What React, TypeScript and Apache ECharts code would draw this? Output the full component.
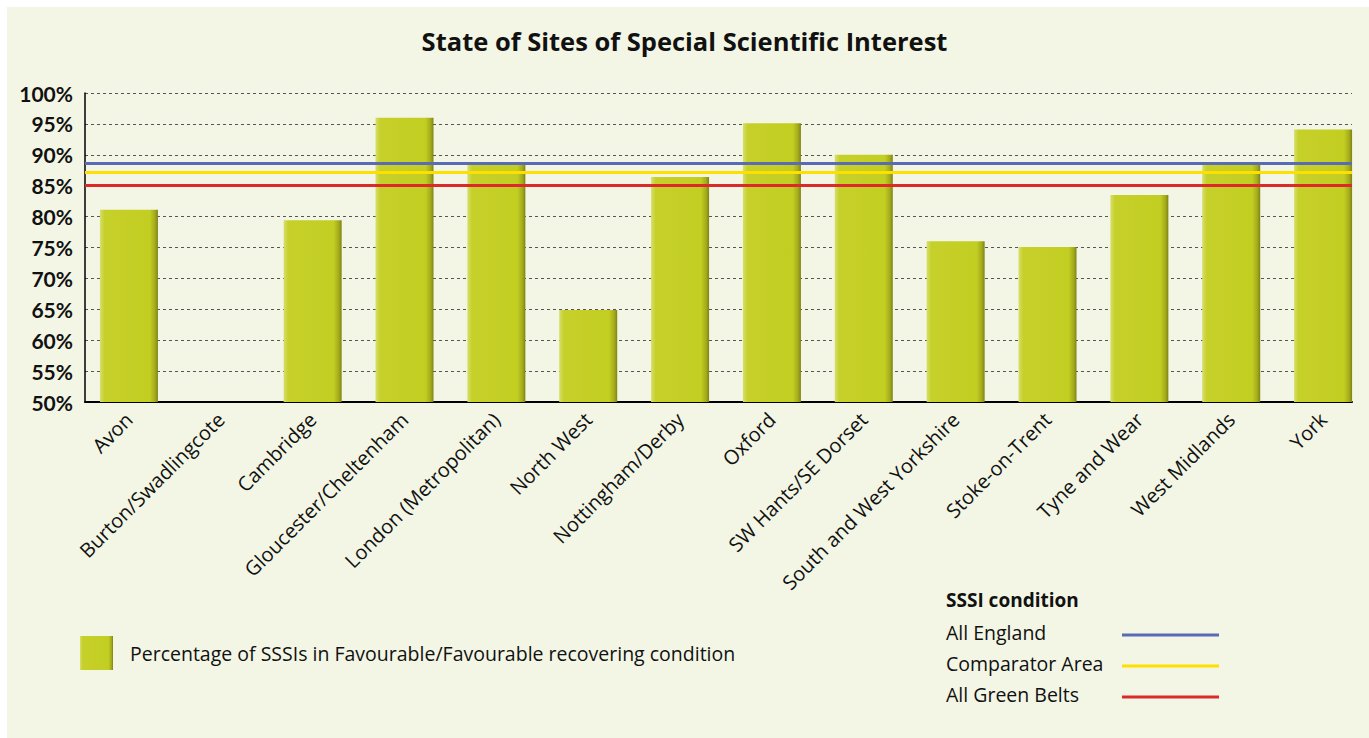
import React, { useEffect, useRef } from "react";
import * as echarts from "echarts";

const title = "State of Sites of Special Scientific Interest";
const categories = [
  "Avon",
  "Burton/Swadlingcote",
  "Cambridge",
  "Gloucester/Cheltenham",
  "London (Metropolitan)",
  "North West",
  "Nottingham/Derby",
  "Oxford",
  "SW Hants/SE Dorset",
  "South and West Yorkshire",
  "Stoke-on-Trent",
  "Tyne and Wear",
  "West Midlands",
  "York",
];
const favourablePct: (number | null)[] = [
  81.1, null, 79.4, 96.0, 88.7, 64.9, 86.4, 95.1, 90.0, 76.0, 75.1, 83.5, 88.6, 94.1,
];
const seriesName = "Percentage of SSSIs in Favourable/Favourable recovering condition";
const legendTitle = "SSSI condition";
const refNames = ["All England", "Comparator Area", "All Green Belts"];
const refValues = [88.6, 87.1, 85.1];
const refColors = ["#5a6bb5", "#ffdf00", "#dc2a2a"];
const yMin = 50;
const yMax = 100;
const yStep = 5;

export default function App() {
  const ref = useRef<HTMLDivElement>(null);
  useEffect(() => {
    if (!ref.current) return;
    const chart = echarts.init(ref.current, undefined, { renderer: "svg" });
    const barColor = new echarts.graphic.LinearGradient(0, 0, 1, 0, [
      { offset: 0, color: "#d7df6c" },
      { offset: 0.08, color: "#c6d02a" },
      { offset: 0.86, color: "#c3ce22" },
      { offset: 0.95, color: "#a3ab1b" },
      { offset: 1, color: "#7d8313" },
    ]);
    const font = "'Open Sans', 'Noto Sans', sans-serif";
    const numFont = "Lato, 'Open Sans', sans-serif";
    const legendGraphics: any[] = [
      {
        type: "text",
        left: 946,
        top: 590,
        style: { text: legendTitle, font: `bold 19px ${font}`, fill: "#111" },
      },
    ];
    const rowY = [635, 666, 697];
    refNames.forEach((n, i) => {
      legendGraphics.push({
        type: "text",
        left: 946,
        top: rowY[i] - 13,
        style: { text: n, font: `19.5px ${font}`, fill: "#111" },
      });
      legendGraphics.push({
        type: "line",
        shape: { x1: 1122, y1: rowY[i], x2: 1219, y2: rowY[i] },
        style: { stroke: refColors[i], lineWidth: 3 },
      });
    });
    chart.setOption({
      animation: false,
      backgroundColor: "#ffffff",
      title: {
        text: title,
        left: "center",
        top: 23,
        textStyle: { fontFamily: font, fontWeight: "bold", fontSize: 25.5, color: "#111" },
      },
      graphic: [
        {
          type: "rect",
          z: -10,
          silent: true,
          shape: { x: 7, y: 7, width: 1362, height: 731 },
          style: { fill: "#f3f6e5" },
        },
        ...legendGraphics,
      ],
      legend: {
        left: 75,
        top: 631,
        data: [seriesName],
        icon: "rect",
        itemWidth: 33,
        itemHeight: 34,
        textStyle: { fontFamily: font, fontSize: 19.5, color: "#111", padding: [0, 0, 0, 12] },
      },
      grid: [
        { left: 83, right: -2, top: 93, bottom: 336, containLabel: false },
        { left: 85, right: 17, top: 93, bottom: 336, containLabel: false },
      ],
      xAxis: [
        {
          type: "category",
          gridIndex: 0,
          data: categories,
          axisLine: { show: false },
          axisTick: { show: false },
          axisLabel: {
            interval: 0,
            rotate: 45,
            margin: 14,
            fontFamily: font,
            fontSize: 20,
            color: "#111",
          },
        },
        {
          type: "category",
          gridIndex: 1,
          data: categories,
          axisLine: { lineStyle: { color: "#000", width: 2 } },
          axisTick: { show: false },
          axisLabel: { show: false },
        },
      ],
      yAxis: [
        {
          type: "value",
          gridIndex: 0,
          min: yMin,
          max: yMax,
          interval: yStep,
          show: false,
          splitLine: { show: false },
        },
        {
          type: "value",
          gridIndex: 1,
          min: yMin,
          max: yMax,
          interval: yStep,
          axisLine: { show: true, lineStyle: { color: "#000", width: 1.5 } },
          axisTick: { show: false },
          axisLabel: {
            formatter: "{value}%",
            fontFamily: numFont,
            fontWeight: "bold",
            fontSize: 21,
            color: "#111",
            margin: 12,
          },
          splitLine: { lineStyle: { color: "#555", type: [3, 3], width: 1 } },
        },
      ],
      series: [
        {
          name: seriesName,
          type: "bar",
          xAxisIndex: 0,
          yAxisIndex: 0,
          data: favourablePct.map((v) => (v === null ? "-" : v)),
          barWidth: 58,
          itemStyle: { color: barColor },
        },
        {
          name: legendTitle,
          type: "line",
          xAxisIndex: 1,
          yAxisIndex: 1,
          data: categories.map(() => "-"),
          z: 5,
          markLine: {
            silent: true,
            symbol: ["none", "none"],
            label: { show: false },
            data: refValues.map((v, i) => ({
              name: refNames[i],
              yAxis: v,
              lineStyle: { color: refColors[i], width: 3, type: "solid" },
            })),
          },
        },
      ],
    });
    return () => chart.dispose();
  }, []);
  return (
    <div
      ref={ref}
      style={{ position: "fixed", left: 0, top: 0, width: 1369, height: 738 }}
    />
  );
}
